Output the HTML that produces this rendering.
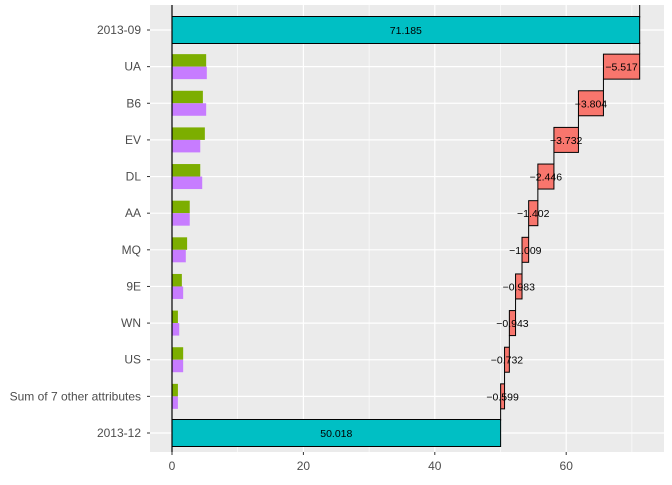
<!DOCTYPE html>
<html><head><meta charset="utf-8"><style>
body{margin:0;background:#fff;}
svg{font-family:"Liberation Sans",sans-serif;}
</style></head><body>
<svg id="c" width="672" height="480"></svg>
<script>
const categories=["2013-09","UA","B6","EV","DL","AA","MQ","9E","WN","US","Sum of 7 other attributes","2013-12"];
const startValue=71.185;
const endValue=50.018;
const deltas=[-5.517,-3.804,-3.732,-2.446,-1.402,-1.009,-0.983,-0.943,-0.732,-0.599];
const greenValues=[5.2,4.7,5.0,4.3,2.7,2.3,1.5,0.9,1.7,0.9];
const purpleValues=[5.3,5.2,4.3,4.6,2.7,2.1,1.7,1.1,1.7,0.9];
const xTicks=[0,20,40,60];
const xMinor=[10,30,50,70];

const NS="http://www.w3.org/2000/svg";
const svg=document.getElementById('c');
const P={l:150,r:664,t:5,b:452};
const x=v=>172+v*6.57;
const y=i=>30+i*36.636;
const bh=25;
function el(t,a,parent){const e=document.createElementNS(NS,t);for(const k in a)e.setAttribute(k,a[k]);(parent||svg).appendChild(e);return e;}
let bg=el('rect',{x:P.l,y:P.t,width:P.r-P.l,height:P.b-P.t,fill:'#EBEBEB'});


xMinor.forEach(v=>{const g=el('line',{x1:x(v),x2:x(v),y1:P.t,y2:P.b,stroke:'#fff','stroke-width':0.6});

});
xTicks.forEach(v=>{const g=el('line',{x1:x(v),x2:x(v),y1:P.t,y2:P.b,stroke:'#fff','stroke-width':1.2});


el('line',{x1:x(v),x2:x(v),y1:P.b,y2:P.b+3,stroke:'#333'});
const t=el('text',{x:x(v),y:P.b+18,'text-anchor':'middle','font-size':12,fill:'#4D4D4D'});t.textContent=v;

});
categories.forEach((c,i)=>{const g=el('line',{x1:P.l,x2:P.r,y1:y(i),y2:y(i),stroke:'#fff','stroke-width':1.2});


el('line',{x1:P.l-3,x2:P.l,y1:y(i),y2:y(i),stroke:'#333'});
const t=el('text',{x:P.l-9,y:y(i)+4,'text-anchor':'end','font-size':12,fill:'#4D4D4D'});t.textContent=c;

});
greenValues.forEach((v,k)=>{const i=k+1;
const g=el('rect',{x:x(0),y:y(i)-bh/2,width:x(v)-x(0),height:bh/2,fill:'#7CAE00'});


const p=el('rect',{x:x(0),y:y(i),width:x(purpleValues[k])-x(0),height:bh/2,fill:'#C77CFF'});

});
[[0,startValue],[11,endValue]].forEach(([i,v])=>{
const r=el('rect',{x:x(0),y:y(i)-bh/2-1,width:x(v)-x(0),height:bh+2,fill:'#00BFC4',stroke:'#000','stroke-width':1});


const t=el('text',{x:(x(0)+x(v))/2,y:y(i)+4,'text-anchor':'middle','font-size':10.5,fill:'#000'});t.textContent=v.toFixed(3);

});
let cur=startValue;
deltas.forEach((d,k)=>{const i=k+1;const nx=cur+d;
el('line',{x1:x(cur),x2:x(cur),y1:y(i-1)+bh/2,y2:y(i)-bh/2,stroke:'#000','stroke-width':1});
const r=el('rect',{x:x(nx),y:y(i)-bh/2,width:x(cur)-x(nx),height:bh,fill:'#F8766D',stroke:'#000','stroke-width':1});


const t=el('text',{x:(x(cur)+x(nx))/2,y:y(i)+4,'text-anchor':'middle','font-size':10.5,fill:'#000'});t.textContent='\u2212'+Math.abs(d).toFixed(3);


cur=nx;});
el('line',{x1:x(cur),x2:x(cur),y1:y(10)+bh/2,y2:y(11)-bh/2,stroke:'#000','stroke-width':1});
el('line',{x1:x(startValue),x2:x(startValue),y1:P.t,y2:y(0)-bh/2,stroke:'#000','stroke-width':1});
const ax=el('line',{x1:x(0),x2:x(0),y1:P.t,y2:P.b,stroke:'#000','stroke-width':1.2});


</script>
</body></html>
